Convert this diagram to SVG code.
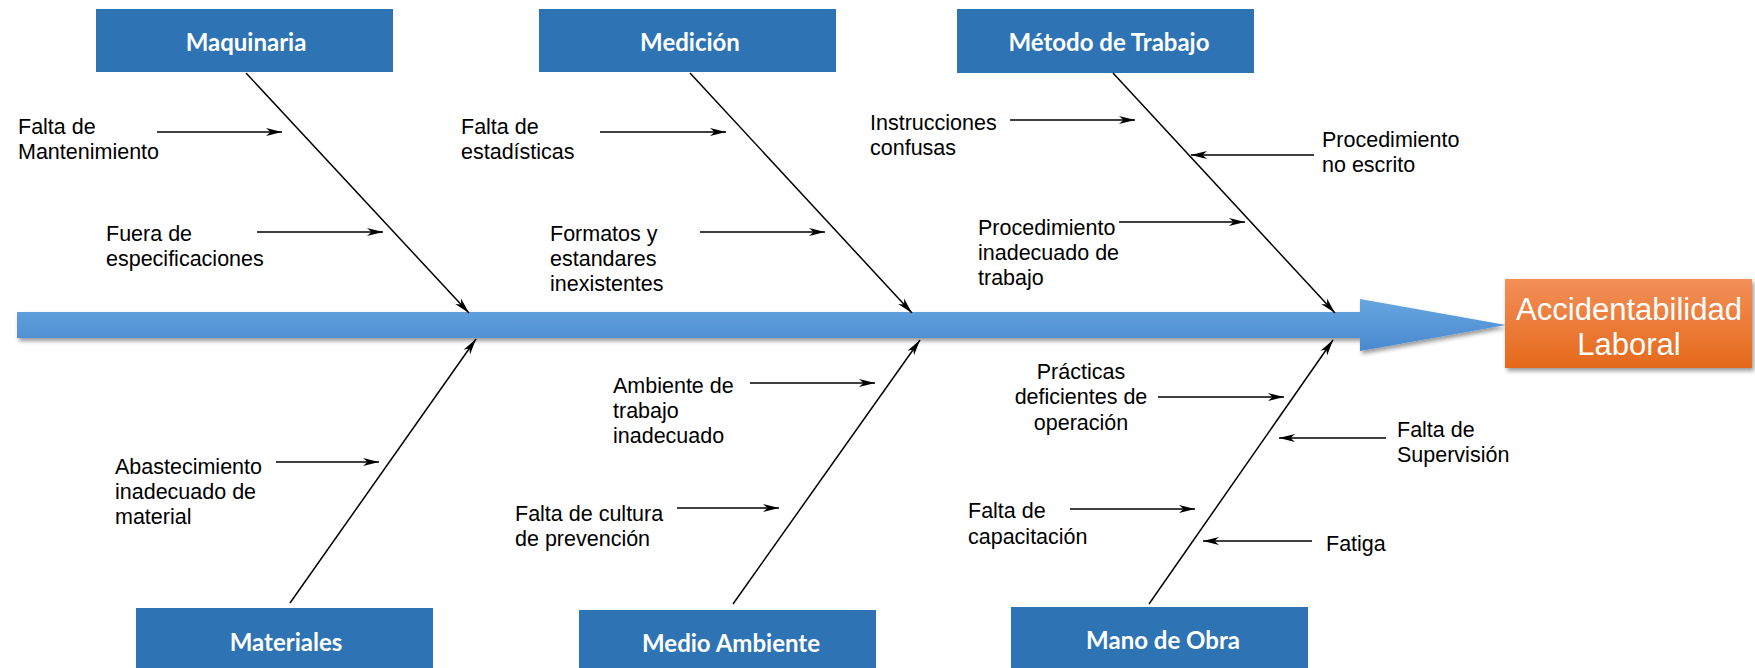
<svg xmlns="http://www.w3.org/2000/svg" width="1755" height="668" viewBox="0 0 1755 668">
<style>
.box{fill:#2e74b5}
.bt{font-family:Lato,"Open Sans",sans-serif;font-weight:bold;font-size:24px;fill:#fff;text-anchor:middle}
.lb{font-family:"Liberation Sans",Arial,sans-serif;font-size:21.5px;fill:#000}
.c{stroke:#000;stroke-width:1.5;fill:none;marker-end:url(#ah)}
</style>
<defs>
<marker id="ah" markerUnits="userSpaceOnUse" markerWidth="18" markerHeight="10" refX="16" refY="5" orient="auto"><path d="M0,1 L16,5 L0,9 L4.5,5 Z" fill="#000"/></marker>
<linearGradient id="gb" x1="0" y1="0" x2="0" y2="1"><stop offset="0" stop-color="#68a6e0"/><stop offset="1" stop-color="#4889cf"/></linearGradient>
<linearGradient id="go" x1="0" y1="0" x2="0" y2="1"><stop offset="0" stop-color="#f28f58"/><stop offset="1" stop-color="#e5691a"/></linearGradient>
<filter id="sh" x="-5%" y="-30%" width="110%" height="170%"><feDropShadow dx="2" dy="3" stdDeviation="2" flood-color="#000" flood-opacity="0.4"/></filter>
</defs>
<g id="spine"><path d="M17,312 L1360,312 L1360,299 L1506,325 L1360,351 L1360,338 L17,338 Z" fill="url(#gb)" filter="url(#sh)"/></g>
<g id="effect"><rect x="1505" y="279" width="247" height="89" fill="url(#go)" filter="url(#sh)"/>
<text x="1629" y="320" font-family="'Liberation Sans',Arial,sans-serif" font-size="31" fill="#fff" text-anchor="middle">Accidentabilidad</text>
<text x="1629" y="355" font-family="'Liberation Sans',Arial,sans-serif" font-size="31" fill="#fff" text-anchor="middle">Laboral</text></g>
<g id="maquinaria"><rect class="box" x="96" y="9" width="297" height="63"/><text class="bt" x="246" y="51">Maquinaria</text></g>
<g id="medicion"><rect class="box" x="539" y="9" width="297" height="63"/><text class="bt" x="690" y="51">Medición</text></g>
<g id="metodo"><rect class="box" x="957" y="9" width="297" height="64"/><text class="bt" x="1109" y="51">Método de Trabajo</text></g>
<g id="materiales"><rect class="box" x="136" y="608" width="297" height="62"/><text class="bt" x="286" y="651">Materiales</text></g>
<g id="medio-ambiente"><rect class="box" x="579" y="610" width="297" height="60"/><text class="bt" x="731" y="652">Medio Ambiente</text></g>
<g id="mano-de-obra"><rect class="box" x="1011" y="607" width="297" height="63"/><text class="bt" x="1163" y="649">Mano de Obra</text></g>
<g id="labels">
<text class="lb" x="18" y="134">Falta de</text><text class="lb" x="18" y="159">Mantenimiento</text>
<text class="lb" x="106" y="241">Fuera de</text><text class="lb" x="106" y="266">especificaciones</text>
<text class="lb" x="461" y="134">Falta de</text><text class="lb" x="461" y="159">estadísticas</text>
<text class="lb" x="550" y="241">Formatos y</text><text class="lb" x="550" y="266">estandares</text><text class="lb" x="550" y="291">inexistentes</text>
<text class="lb" x="870" y="130">Instrucciones</text><text class="lb" x="870" y="155">confusas</text>
<text class="lb" x="1322" y="147">Procedimiento</text><text class="lb" x="1322" y="172">no escrito</text>
<text class="lb" x="978" y="235">Procedimiento</text><text class="lb" x="978" y="260">inadecuado de</text><text class="lb" x="978" y="285">trabajo</text>
<text class="lb" x="115" y="474">Abastecimiento</text><text class="lb" x="115" y="499">inadecuado de</text><text class="lb" x="115" y="524">material</text>
<text class="lb" x="613" y="393">Ambiente de</text><text class="lb" x="613" y="418">trabajo</text><text class="lb" x="613" y="443">inadecuado</text>
<text class="lb" x="515" y="521">Falta de cultura</text><text class="lb" x="515" y="546">de prevención</text>
<text class="lb" x="1081" y="379" text-anchor="middle">Prácticas</text><text class="lb" x="1081" y="404" text-anchor="middle">deficientes de</text><text class="lb" x="1081" y="430" text-anchor="middle">operación</text>
<text class="lb" x="1397" y="437">Falta de</text><text class="lb" x="1397" y="462">Supervisión</text>
<text class="lb" x="968" y="518">Falta de</text><text class="lb" x="968" y="544">capacitación</text>
<text class="lb" x="1326" y="551">Fatiga</text>
</g>
<g id="connectors">
<line class="c" x1="246" y1="73" x2="469" y2="313"/>
<line class="c" x1="690" y1="73" x2="912" y2="313"/>
<line class="c" x1="1113" y1="73" x2="1335" y2="313"/>
<line class="c" x1="290" y1="603" x2="476" y2="339"/>
<line class="c" x1="733" y1="604" x2="920" y2="340"/>
<line class="c" x1="1149" y1="604" x2="1333" y2="340"/>
<line class="c" x1="157" y1="132" x2="282" y2="132"/>
<line class="c" x1="257" y1="232" x2="383" y2="232"/>
<line class="c" x1="600" y1="132" x2="726" y2="132"/>
<line class="c" x1="700" y1="232" x2="825" y2="232"/>
<line class="c" x1="1010" y1="120" x2="1135" y2="120"/>
<line class="c" x1="1314" y1="155" x2="1191" y2="155"/>
<line class="c" x1="1119" y1="222" x2="1245" y2="222"/>
<line class="c" x1="276" y1="462" x2="379" y2="462"/>
<line class="c" x1="750" y1="383" x2="875" y2="383"/>
<line class="c" x1="677" y1="508" x2="779" y2="508"/>
<line class="c" x1="1158" y1="397" x2="1284" y2="397"/>
<line class="c" x1="1386" y1="438" x2="1279" y2="438"/>
<line class="c" x1="1070" y1="509" x2="1195" y2="509"/>
<line class="c" x1="1312" y1="541" x2="1203" y2="541"/>
</g>
</svg>
